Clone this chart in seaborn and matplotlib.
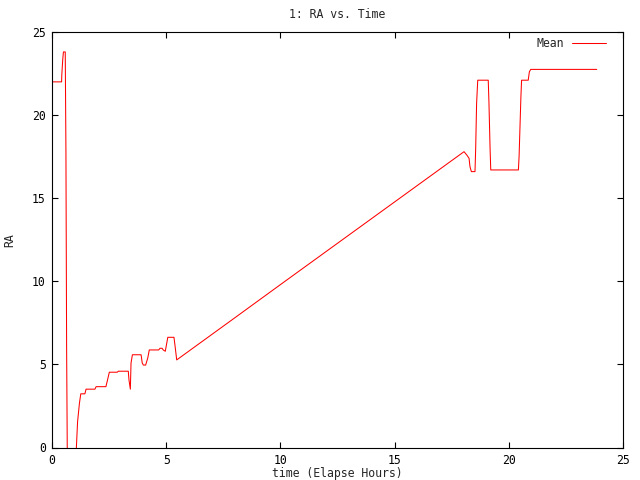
import pandas as pd
import matplotlib
matplotlib.use('Agg')
import matplotlib.pyplot as plt
import seaborn as sns

# Values (elapsed hours vs mean RA)
time_hours = [0.00, 0.42, 0.43, 0.47, 0.50, 0.58, 0.61, 0.64, 0.67, 1.05,
              1.12, 1.20, 1.26, 1.44, 1.49, 1.88, 1.93, 2.36, 2.42, 2.51,
              2.86, 2.90, 3.34, 3.37, 3.43, 3.46, 3.52, 3.90, 3.95, 4.00,
              4.10, 4.19, 4.26, 4.67, 4.73, 4.82, 4.87, 4.96, 5.07, 5.34,
              5.40, 5.46, 8.00, 10.00, 12.00, 14.00, 16.00, 18.04, 18.16, 18.26,
              18.30, 18.36, 18.52, 18.55, 18.59, 18.64, 19.10, 19.13, 19.18, 19.21,
              20.42, 20.45, 20.49, 20.53, 20.56, 20.85, 20.90, 20.96, 23.85]
ra_mean = [22.00, 22.00, 22.44, 23.34, 23.80, 23.80, 17.80, 6.00, -0.50, -0.50,
           1.55, 2.65, 3.23, 3.23, 3.51, 3.51, 3.66, 3.66, 4.00, 4.53,
           4.53, 4.59, 4.59, 4.07, 3.51, 5.08, 5.58, 5.58, 5.09, 4.96,
           4.96, 5.37, 5.87, 5.87, 5.97, 5.97, 5.87, 5.79, 6.63, 6.63,
           5.97, 5.27, 7.80, 9.80, 11.79, 13.78, 15.77, 17.80, 17.60, 17.40,
           16.90, 16.60, 16.60, 18.00, 20.70, 22.10, 22.10, 20.80, 18.00, 16.70,
           16.70, 17.50, 19.30, 21.10, 22.10, 22.10, 22.60, 22.75, 22.75]

x_ticks = [0, 5, 10, 15, 20, 25]
y_ticks = [0, 5, 10, 15, 20, 25]

df = pd.DataFrame({'time': time_hours, 'RA': ra_mean})

sns.set_style('ticks')
plt.rcParams['font.family'] = ['DejaVu Sans Mono', 'DejaVu Sans']
fs = 8.3

fig = plt.figure(figsize=(6.4, 4.8), dpi=100)
ax = fig.add_axes([52 / 640, 1 - 447.5 / 480, 571 / 640, 415.5 / 480])

sns.lineplot(x='time', y='RA', data=df, color='#ff0000', linewidth=0.75,
             estimator=None, sort=False, label='Mean', ax=ax)

ax.set_xlim(0, 25)
ax.set_ylim(0, 25)
ax.set_xticks(x_ticks)
ax.set_yticks(y_ticks)
ax.tick_params(direction='in', length=4.3, width=0.8, top=True, right=True,
               labelsize=fs, colors='black', pad=4.5)
for side in ax.spines.values():
    side.set_linewidth(0.8)
    side.set_color('black')

ax.set_xlabel('time (Elapse Hours)', fontsize=fs)
ax.xaxis.set_label_coords(0.5, -0.046)
ax.set_ylabel('RA', fontsize=fs)
ax.yaxis.set_label_coords(-0.062, 0.5)
ax.set_title('1: RA vs. Time', fontsize=fs, pad=10)

leg = ax.legend(loc='upper right', frameon=False, markerfirst=False,
                handlelength=2.9, handletextpad=0.7, fontsize=fs,
                borderaxespad=0.3, bbox_to_anchor=(0.984, 1.007))

fig.savefig('out.png', dpi=100)
